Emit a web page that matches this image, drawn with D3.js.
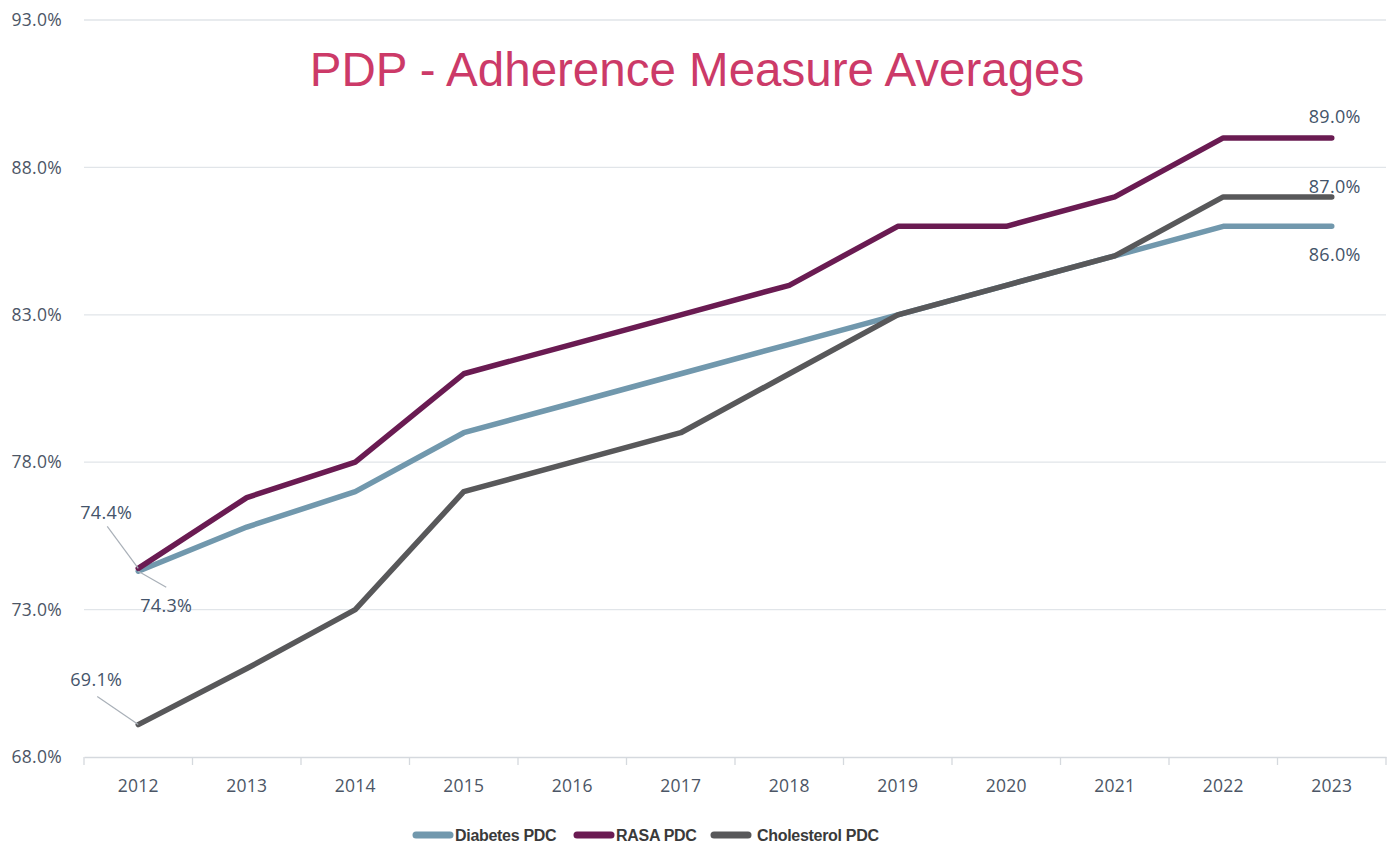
<!DOCTYPE html>
<html lang="en">
<head>
  <meta charset="UTF-8">
  <title>PDP - Adherence Measure Averages</title>
  <script src="https://d3js.org/d3.v7.min.js"></script>
  <style>
    body { margin: 0; background: #fff; }
    #chart { width: 1393px; height: 846px; }
  </style>
</head>
<body>
  <div id="chart"></div>
  <script>
    const width = 1393, height = 846;

    // data
    const years = ["2012", "2013", "2014", "2015", "2016", "2017", "2018", "2019", "2020", "2021", "2022", "2023"];
    const diabetes = [74.3, 75.8, 77.0, 79.0, 80.0, 81.0, 82.0, 83.0, 84.0, 85.0, 86.0, 86.0];
    const rasa = [74.4, 76.8, 78.0, 81.0, 82.0, 83.0, 84.0, 86.0, 86.0, 87.0, 89.0, 89.0];
    const cholesterol = [69.1, 71.0, 73.0, 77.0, 78.0, 79.0, 81.0, 83.0, 84.0, 85.0, 87.0, 87.0];
    const yTicks = [68, 73, 78, 83, 88, 93];

    const series = [
      { name: "Diabetes PDC", values: diabetes, color: "#7198ad" },
      { name: "RASA PDC", values: rasa, color: "#6a1b52" },
      { name: "Cholesterol PDC", values: cholesterol, color: "#58585a" }
    ];

    const margin = { top: 20, right: 7, bottom: 89, left: 84 };

    const svg = d3.select("#chart")
      .append("svg")
      .attr("width", width)
      .attr("height", height);

    const x = d3.scaleBand()
      .domain(years)
      .range([margin.left, width - margin.right]);

    const y = d3.scaleLinear()
      .domain([68, 93])
      .range([height - margin.bottom, margin.top]);

    const fmt = d => d.toFixed(1) + "%";
    const axisFont = "Open Sans, sans-serif";

    // gridlines
    svg.append("g")
      .selectAll("line")
      .data(yTicks.slice(1))
      .join("line")
      .attr("x1", margin.left)
      .attr("x2", width - margin.right)
      .attr("y1", d => y(d))
      .attr("y2", d => y(d))
      .attr("stroke", "#e1e5e9")
      .attr("stroke-width", 1.3);

    // y labels
    svg.append("g")
      .selectAll("text")
      .data(yTicks)
      .join("text")
      .attr("x", 62)
      .attr("y", d => y(d))
      .attr("dy", "0.35em")
      .attr("text-anchor", "end")
      .attr("font-family", axisFont)
      .attr("font-size", 17.5)
      .attr("letter-spacing", 0.3)
      .attr("fill", "#4c5666")
      .text(fmt);

    // x axis
    const xAxis = d3.axisBottom(x).tickSize(0).tickPadding(23);
    const gx = svg.append("g")
      .attr("transform", `translate(0,${y(68)})`)
      .call(xAxis);
    gx.select(".domain").attr("stroke", "#d5d9de").attr("stroke-width", 1.3);
    gx.selectAll("text")
      .attr("font-family", axisFont)
      .attr("font-size", 17.5)
      .attr("letter-spacing", 0.3)
      .attr("fill", "#4c5666");

    // tick marks at band edges
    const edges = years.map(d => x(d)).concat([x(years[years.length - 1]) + x.bandwidth()]);
    gx.append("g")
      .selectAll("line")
      .data(edges)
      .join("line")
      .attr("x1", d => d)
      .attr("x2", d => d)
      .attr("y1", 0)
      .attr("y2", 8)
      .attr("stroke", "#d5d9de")
      .attr("stroke-width", 1.3);

    // lines
    const line = d3.line()
      .x((d, i) => x(years[i]) + x.bandwidth() / 2)
      .y(d => y(d));

    svg.append("g")
      .selectAll("path")
      .data(series)
      .join("path")
      .attr("d", d => line(d.values))
      .attr("fill", "none")
      .attr("stroke", d => d.color)
      .attr("stroke-width", 5.5)
      .attr("stroke-linejoin", "round")
      .attr("stroke-linecap", "round");

    // data labels with leader lines
    const cx = i => x(years[i]) + x.bandwidth() / 2;
    const last = years.length - 1;
    const labels = [
      { v: rasa[0], i: 0, tx: -32, ty: -56, lead: [-31, -42] },
      { v: diabetes[0], i: 0, tx: 28, ty: 34, lead: [28, 16] },
      { v: cholesterol[0], i: 0, tx: -42, ty: -45, lead: [-41, -28] },
      { v: rasa[last], i: last, tx: 3, ty: -21, lead: null },
      { v: cholesterol[last], i: last, tx: 3, ty: -10, lead: null },
      { v: diabetes[last], i: last, tx: 3, ty: 28, lead: null }
    ];

    const lab = svg.append("g");
    labels.forEach(l => {
      const px = cx(l.i), py = y(l.v);
      if (l.lead) {
        lab.append("line")
          .attr("x1", px)
          .attr("y1", py)
          .attr("x2", px + l.lead[0])
          .attr("y2", py + l.lead[1])
          .attr("stroke", "#a9b0b8")
          .attr("stroke-width", 1.2);
      }
      lab.append("text")
        .attr("x", px + l.tx)
        .attr("y", py + l.ty)
        .attr("dy", "0.35em")
        .attr("text-anchor", "middle")
        .attr("font-family", axisFont)
        .attr("font-size", 18)
        .attr("letter-spacing", 0.3)
        .attr("fill", "#44546a")
        .text(fmt(l.v));
    });

    // title
    svg.append("text")
      .attr("x", 697)
      .attr("y", 86)
      .attr("text-anchor", "middle")
      .attr("font-family", "Liberation Sans, Arial, sans-serif")
      .attr("font-size", 47.5)
      .attr("fill", "#cc3a68")
      .text("PDP - Adherence Measure Averages");

    // legend
    const legendItems = [
      { x: 412, tx: 455 },
      { x: 573, tx: 616 },
      { x: 710, tx: 757 }
    ];
    const legend = svg.append("g").attr("transform", "translate(0,835)");
    series.forEach((s, i) => {
      legend.append("line")
        .attr("x1", legendItems[i].x + 4)
        .attr("x2", legendItems[i].x + 38)
        .attr("stroke", s.color)
        .attr("stroke-width", 7)
        .attr("stroke-linecap", "round");
      legend.append("text")
        .attr("x", legendItems[i].tx)
        .attr("dy", "0.35em")
        .attr("font-family", "Liberation Sans, Arial, sans-serif")
        .attr("font-weight", "bold")
        .attr("font-size", 16)
        .attr("letter-spacing", -0.3)
        .attr("fill", "#3a3a3a")
        .text(s.name);
    });
  </script>
</body>
</html>
